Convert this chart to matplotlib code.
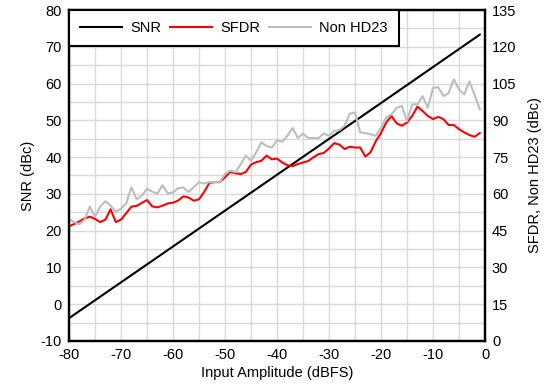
import numpy as np
import matplotlib
matplotlib.use("Agg")
import matplotlib.pyplot as plt
from matplotlib.ticker import MultipleLocator

plt.rcParams['font.family'] = ['Liberation Sans', 'DejaVu Sans']
plt.rcParams['axes.unicode_minus'] = False

# input amplitude sweep (dBFS)
amp = list(range(-80, 0))

# SNR (dBc, left axis) - straight line, a few points is enough
snr_amp = [-80, -60, -40, -20, -1]
snr = [-3.8, 15.7, 35.2, 54.7, 73.3]

# SFDR (dBc, right axis)
sfdr = [46.8, 47.7, 48.8, 50.0, 50.7, 49.8, 48.5, 49.5, 53.7, 48.5,
        49.5, 52.1, 54.8, 55.1, 56.3, 57.5, 54.9, 54.5, 55.2, 56.1,
        56.4, 57.3, 59.0, 58.5, 57.2, 57.8, 60.8, 64.5, 64.8, 64.8,
        66.8, 68.9, 68.4, 68.1, 68.9, 72.0, 72.9, 73.5, 75.6, 74.1,
        74.4, 72.8, 71.7, 71.3, 72.2, 72.8, 73.4, 74.9, 76.2, 76.7,
        78.5, 80.7, 80.1, 78.3, 79.2, 78.9, 78.9, 75.2, 77.0, 81.5,
        84.8, 89.1, 91.8, 88.8, 87.8, 89.1, 91.8, 95.6, 93.8, 91.8,
        90.5, 91.4, 90.5, 88.1, 88.1, 86.4, 85.1, 84.0, 83.3, 84.8]

# worst spur excluding HD2/HD3 (dBc, right axis)
non_hd23 = [49.7, 48.5, 47.6, 49.5, 54.8, 50.7, 54.8, 57.0, 55.2, 52.7,
            54.0, 56.1, 62.7, 57.8, 59.3, 62.1, 60.9, 60.2, 63.5, 60.2,
            60.6, 62.3, 62.6, 60.8, 62.7, 64.8, 64.2, 64.8, 64.8, 64.8,
            68.1, 69.5, 68.9, 72.0, 75.6, 73.5, 77.0, 81.0, 79.5, 78.9,
            81.8, 81.3, 83.7, 86.9, 82.8, 84.6, 82.8, 82.8, 82.8, 84.6,
            83.7, 85.7, 86.0, 87.8, 92.7, 93.2, 85.1, 84.8, 84.3, 83.7,
            87.0, 91.1, 92.4, 95.1, 95.9, 89.7, 96.5, 96.5, 99.9, 95.1,
            103.2, 103.5, 99.9, 101.1, 106.7, 102.6, 100.5, 105.9, 100.5, 94.5]

fig = plt.figure(figsize=(5.46, 3.85), dpi=100)
ax = fig.add_axes([69 / 546, 1 - 341 / 385, (485 - 69) / 546, (341 - 10) / 385])
ax2 = ax.twinx()

fs = 10.5
ax.set_xlim(-80, 0)
ax.set_ylim(-10, 80)
ax2.set_ylim(0, 135)
ax.xaxis.set_major_locator(MultipleLocator(10))
ax.xaxis.set_minor_locator(MultipleLocator(5))
ax.yaxis.set_major_locator(MultipleLocator(10))
ax.yaxis.set_minor_locator(MultipleLocator(5))
ax2.yaxis.set_major_locator(MultipleLocator(15))
ax.grid(which='both', color='#d9d9d9', lw=1.0)
ax.set_axisbelow(True)

ax.tick_params(which='both', length=0, labelsize=fs, pad=5)
ax2.tick_params(which='both', length=0, labelsize=fs, pad=5)
for a in (ax, ax2):
    for s in a.spines.values():
        s.set_linewidth(1.6)
        s.set_color('black')

l1, = ax.plot(snr_amp, snr, color='black', lw=1.5, label='SNR')
l2, = ax2.plot(amp, sfdr, color='#ff0000', lw=1.5, label='SFDR')
l3, = ax2.plot(amp, non_hd23, color='#bdbdbd', lw=1.5, label='Non HD23')

ax.set_xlabel('Input Amplitude (dBFS)', fontsize=fs, labelpad=3)
ax.set_ylabel('SNR (dBc)', fontsize=fs, labelpad=4)
ax2.set_ylabel('SFDR, Non HD23 (dBc)', fontsize=fs, labelpad=8)

leg = ax2.legend(handles=[l1, l2, l3], loc='upper left', bbox_to_anchor=(0, 1),
                 ncol=3, fontsize=fs, frameon=True, fancybox=False,
                 borderaxespad=0, handlelength=2.9, handletextpad=0.55,
                 columnspacing=0.6, borderpad=0.75)
leg.get_frame().set_edgecolor('black')
leg.get_frame().set_linewidth(1.5)
leg.get_frame().set_alpha(1)

fig.savefig('out.png', dpi=100)
